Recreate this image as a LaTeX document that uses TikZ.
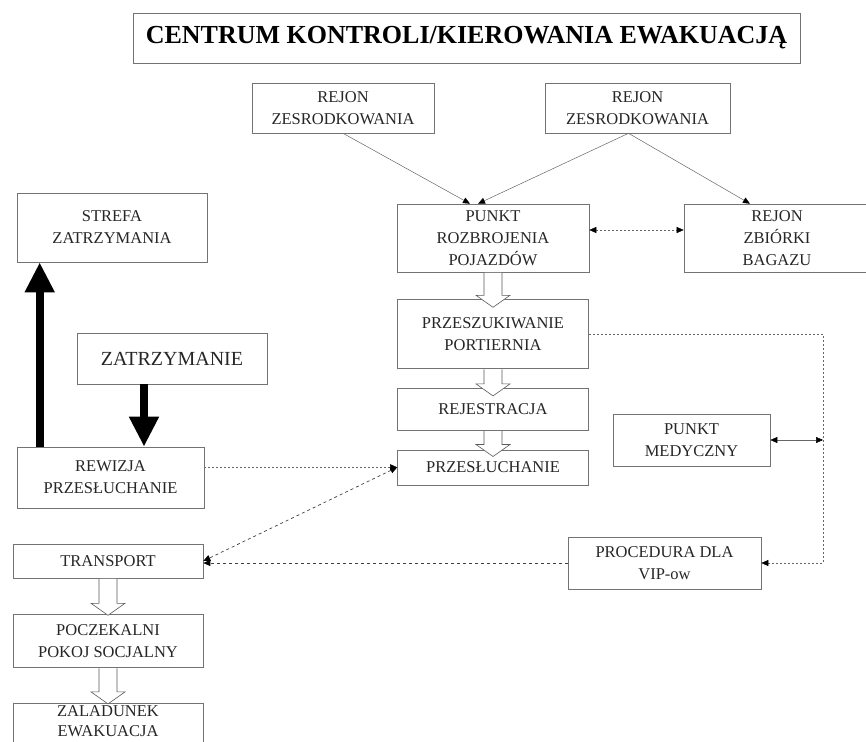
\documentclass[tikz,border=0pt]{standalone}
\usepackage{fontspec}
\setmainfont{Liberation Serif}
\usetikzlibrary{positioning, arrows.meta, calc}

% open block arrow between two stacked boxes
\newcommand{\openarrow}[3]{%
  \draw [hollow] ($(#1.south)+(-9,0.5)$) -- ($(#2.north)+(-9,#3-12)$) -- ($(#2.north)+(-17,#3-12)$)
    -- ($(#2.north)+(0,#3)$) -- ($(#2.north)+(17,#3-12)$) -- ($(#2.north)+(9,#3-12)$) -- ($(#1.south)+(9,0.5)$);}

\begin{document}
\begin{tikzpicture}[
    x=1pt, y=-1pt,
    box/.style={draw=black!55, line width=0.6pt, fill=white, align=center, text=black!85,
        font=\fontsize{16.5}{22}\selectfont, inner sep=2pt},
    link/.style={draw=black!60, line width=0.5pt, -{Triangle[length=7pt, width=6pt, black]}},
    twoway/.style={{Triangle[length=7pt, width=6pt, black]}-{Triangle[length=7pt, width=6pt, black]}},
    dotlink/.style={link, dash pattern=on 2pt off 2pt},
    dashlink/.style={link, draw=black!75, line width=0.7pt, dash pattern=on 3pt off 3pt},
    heavy/.style={line width=8pt, -{Triangle[length=30pt, width=28pt]}},
    hollow/.style={draw=black!65, line width=0.6pt, fill=white},
    node distance=20pt
]
    \useasboundingbox (0,0) rectangle (866,741);

    %% TITLE
    \node [box, minimum width=667pt, minimum height=50pt, font=\fontsize{26}{30}\selectfont\bfseries, text=black] (centrum) at (466.5,38) {CENTRUM KONTROLI/KIEROWANIA EWAKUACJĄ};

    %% MIDDLE COLUMN
    \node [box, minimum width=182pt, minimum height=50pt] (rejon1) at (343,108) {REJON\\ZESRODKOWANIA};
    \node [box, minimum width=185pt, minimum height=50pt] (rejon2) at (637.5,108) {REJON\\ZESRODKOWANIA};
    \node [box, minimum width=192pt, minimum height=68pt] (punkt) at (493,238) {PUNKT\\ROZBROJENIA\\POJAZDÓW};
    \node [box, minimum width=186pt, minimum height=68pt] (bagaz) at (777,238) {REJON\\ZBIÓRKI\\BAGAZU};
    \node [box, minimum width=191pt, minimum height=69pt, below=27pt of punkt] (przeszuk) {PRZESZUKIWANIE\\PORTIERNIA};
    \node [box, minimum width=191pt, minimum height=42pt, below=19pt of przeszuk] (rejestracja) {REJESTRACJA};
    \node [box, minimum width=191pt, minimum height=35pt, below=19pt of rejestracja] (przesl) {PRZESŁUCHANIE};

    %% LEFT COLUMN
    \node [box, minimum width=190pt, minimum height=69pt] (strefa) at (112,227.5) {STREFA\\ZATRZYMANIA};
    \node [box, minimum width=190pt, minimum height=51pt, font=\fontsize{20}{24}\selectfont] (zatrzymanie) at (172,358.5) {ZATRZYMANIE};
    \node [box, minimum width=187pt, minimum height=61pt] (rewizja) at (110.5,477.5) {REWIZJA\\PRZESŁUCHANIE};
    \node [box, minimum width=190pt, minimum height=34pt] (transport) at (108,561) {TRANSPORT};
    \node [box, minimum width=190pt, minimum height=53pt, below=36pt of transport] (poczekalnia) {POCZEKALNI\\POKOJ SOCJALNY};
    \node [box, minimum width=190pt, text depth=12pt, below=35pt of poczekalnia, font=\fontsize{16.5}{20}\selectfont] (zaladunek) {ZALADUNEK\\EWAKUACJA};

    %% RIGHT SIDE
    \node [box, minimum width=157pt, minimum height=52pt] (medyczny) at (691.5,440) {PUNKT\\MEDYCZNY};
    \node [box, minimum width=193pt, minimum height=52pt] (procedura) at (664.5,563) {PROCEDURA DLA\\VIP-ow};
    \coordinate (vipline) at (823,334);

    % Paths
    \draw [link] (rejon1.south) -- ([xshift=-23pt]punkt.north);
    \draw [link] ([xshift=-9pt]rejon2.south) -- ([xshift=-15pt]punkt.north);
    \draw [link] ([xshift=-9pt]rejon2.south) -- ([xshift=-27pt]bagaz.north);
    \draw [dotlink, twoway] ([yshift=8pt]punkt.east) -- ([yshift=8pt]punkt.east -| bagaz.west);

    % Block arrows
    \openarrow{punkt}{przeszuk}{8}
    \openarrow{przeszuk}{rejestracja}{8}
    \openarrow{rejestracja}{przesl}{7}
    \openarrow{transport}{poczekalnia}{1}
    \openarrow{poczekalnia}{zaladunek}{1}

    % Detention
    \draw [heavy] ($(rewizja.north west)+(23,0)$) -- ($(strefa.south west)+(23,0)$);
    \draw [heavy] ([xshift=-28pt]zatrzymanie.south) -- ([xshift=-28pt]zatrzymanie.south |- rewizja.north);

    % Interrogation and transport
    \draw [dotlink] (rewizja.east |- przesl.west) -- (przesl.west);
    \draw [dashlink, twoway] (przesl.west) -- (transport.east);
    \draw [dashlink] (procedura.west) -- (procedura.west -| transport.east);

    % VIP loop
    \draw [dotlink] (przeszuk.east) -- (przeszuk.east -| vipline) |- (procedura.east);
    \draw [link, twoway] (medyczny.east) -- (medyczny.east -| vipline);

\end{tikzpicture}
\end{document}
